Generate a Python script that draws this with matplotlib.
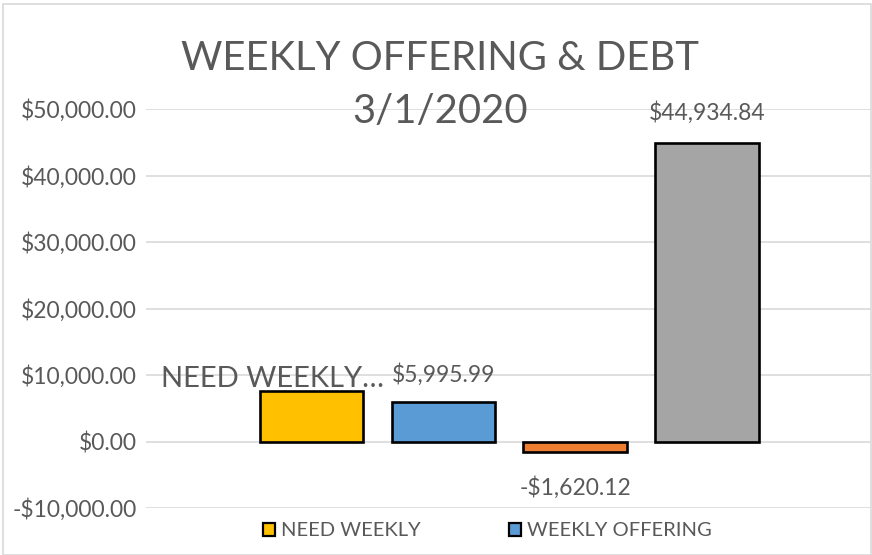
import matplotlib
matplotlib.use("Agg")
import matplotlib.pyplot as plt
from matplotlib.patches import Rectangle

series = ["NEED WEEKLY", "WEEKLY OFFERING", "SERIES 3", "SERIES 4"]
values = [7650.0, 5995.99, -1620.12, 44934.84]
labels = ["NEED WEEKLY…", "$5,995.99", "-$1,620.12", "$44,934.84"]
colors = ["#FFC000", "#5B9BD5", "#ED7D31", "#A5A5A5"]
yticks = [-10000, 0, 10000, 20000, 30000, 40000, 50000]
ytick_labels = ["-$10,000.00", "$0.00", "$10,000.00", "$20,000.00",
                "$30,000.00", "$40,000.00", "$50,000.00"]
title_lines = ["WEEKLY OFFERING & DEBT", "3/1/2020"]

plt.rcParams['font.family'] = ['Lato', 'DejaVu Sans']
txt = "#595959"

fig = plt.figure(figsize=(8.72, 5.55), dpi=100)
ax = fig.add_axes([146/872, 1-508/555, (871-146)/872, (508-109)/555])

x = list(range(len(values)))
ax.bar(x, values, width=0.785, color=colors, edgecolor="black",
       linewidth=1.9, zorder=3)

ax.set_ylim(-10000, 50000)
ax.set_xlim(-1.255, 4.245)
ax.set_yticks(yticks)
ax.set_yticklabels(ytick_labels, color=txt, fontsize=16.5)
ax.set_xticks([])
ax.tick_params(axis='y', length=0, pad=6.5)
ax.grid(axis='y', color="#D9D9D9", linewidth=1.2, zorder=0)
for s in ax.spines.values():
    s.set_visible(False)

# data labels
ax.annotate(labels[0], (0.55, values[0]), xytext=(0, 12), textcoords='offset pixels',
            ha='right', va='center', fontsize=21, color=txt)
ax.annotate(labels[1], (1, values[1]), xytext=(0, 27), textcoords='offset pixels',
            ha='center', va='center', fontsize=16.5, color=txt)
ax.annotate(labels[2], (2, values[2]), xytext=(0, -35), textcoords='offset pixels',
            ha='center', va='center', fontsize=16.5, color=txt)
ax.annotate(labels[3], (3, values[3]), xytext=(0, 30), textcoords='offset pixels',
            ha='center', va='center', fontsize=16.5, color=txt)

fig.text(440/872, 1-59/555, title_lines[0], ha='center', va='center',
         fontsize=28.8, color=txt)
fig.text(440/872, 1-112/555, title_lines[1], ha='center', va='center',
         fontsize=28.8, color=txt)

handles = [Rectangle((0, 0), 1, 1, facecolor=colors[i], edgecolor='black', linewidth=1.6)
           for i in range(2)]
fig.legend(handles, series[:2], loc='center', bbox_to_anchor=(487.5/872, 1-531/555),
           ncol=2, frameon=False, fontsize=14.5, handlelength=0.6, handleheight=0.6,
           handletextpad=0.3, columnspacing=4.4, labelcolor=txt)

fig.patches.append(Rectangle((3/872, 0.5/555), 868/872, 551/555, transform=fig.transFigure,
                             fill=False, edgecolor="#D9D9D9", linewidth=1.2))

fig.savefig("out.png", dpi=100)
